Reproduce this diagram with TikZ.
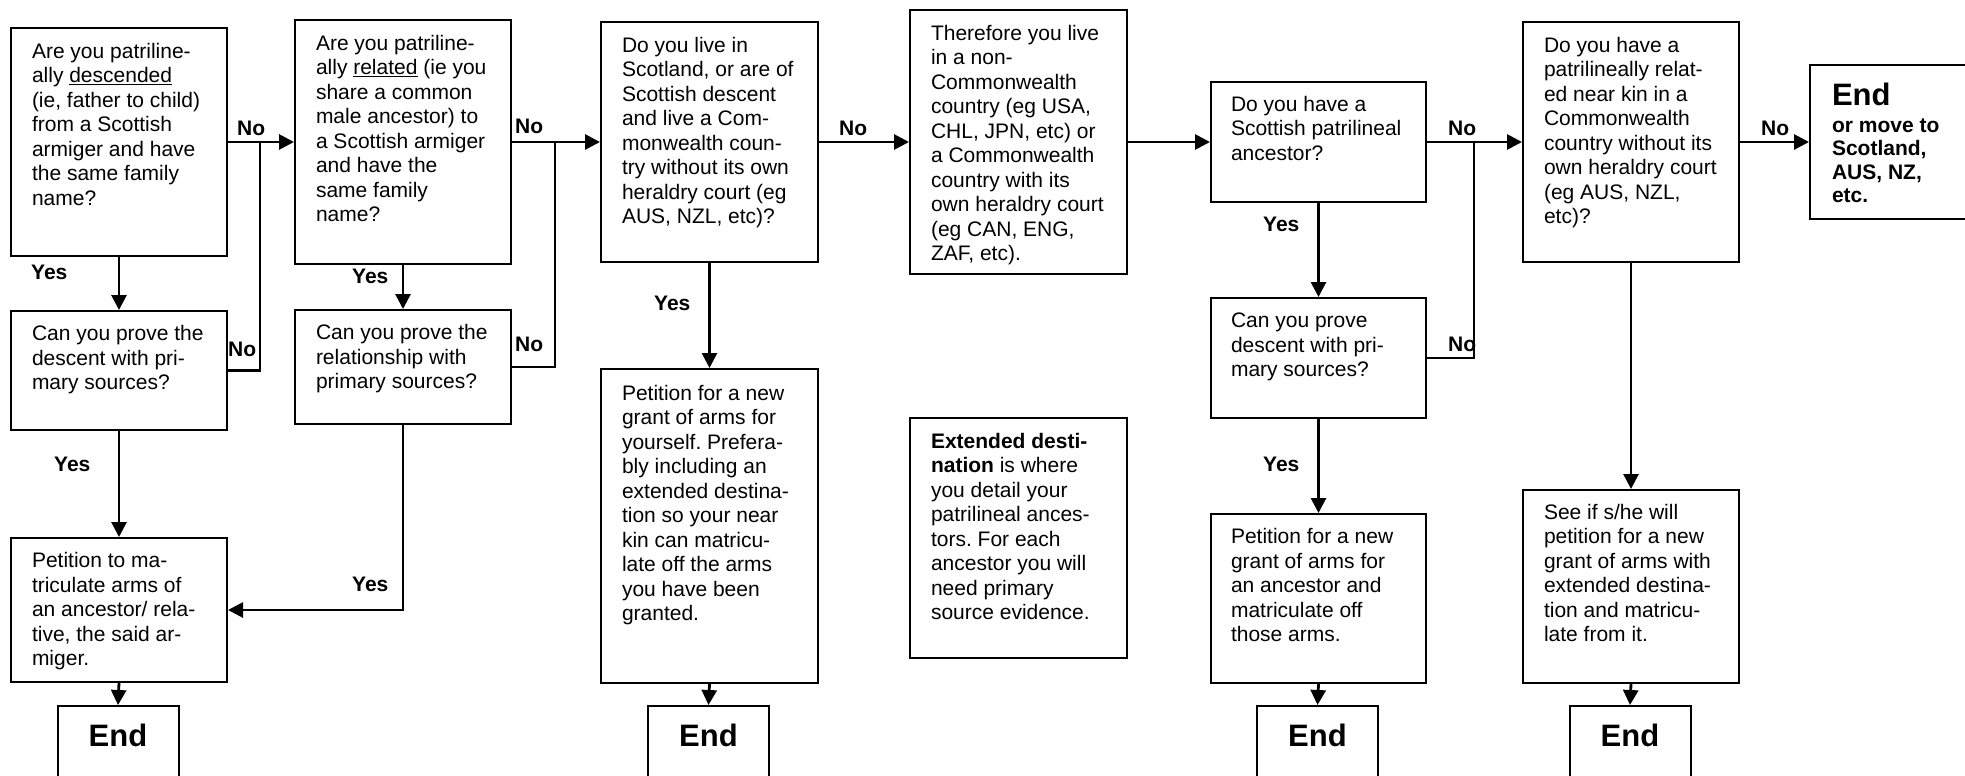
\documentclass[tikz,border=0pt]{standalone}
\usepackage{fontspec}
\setmainfont{Liberation Sans}
\usetikzlibrary{arrows.meta}
\frenchspacing
% #1 width, #2 height, #3 left inset, #4 first baseline, #5 text
\newcommand{\bxt}[5]{\parbox[c][#2pt][t]{#1pt}{\raggedright\frenchspacing\leftskip=#3pt\relax\hyphenpenalty=10000\exhyphenpenalty=10000\rule{0pt}{#4pt}#5\par}}
\newcommand{\ebx}{\parbox[c][110pt][t]{121pt}{\centering\fontsize{31pt}{31pt}\selectfont\bfseries\rule{0pt}{40pt}End\par}}
\begin{document}
\begin{tikzpicture}[x=1pt,y=-1pt,
  every node/.style={font=\fontsize{21pt}{24.5pt}\selectfont},
  box/.style={draw, line width=2pt, inner sep=0pt, anchor=north west},
  endbox/.style={draw, line width=2pt, inner sep=0pt, anchor=north},
  conn/.style={line width=2.8pt},
  arr/.style={conn, -{Triangle[length=15pt,width=15pt]}},
  lab/.style={font=\fontsize{21pt}{24.5pt}\selectfont\bfseries, inner sep=0pt, anchor=base west}]
\useasboundingbox (0,0) rectangle (1965,776);
\fill[white] (0,0) rectangle (1965,776);
\clip (0,0) rectangle (1965,776);

% main row
\node[box] (q1) at (10,27) {\bxt{216}{228}{21}{30}{Are you patriline-\\ally \underline{descended}\\(ie, father to child)\\from a Scottish\\armiger and have\\the same family\\name?}};
\node[box] (q2) at (294,19) {\bxt{216}{244}{21}{30}{Are you patriline-\\ally \underline{related} (ie you\\share a common\\male ancestor) to\\a Scottish armiger\\and have the\\same family\\name?}};
\node[box] (q3) at (600,21) {\bxt{217}{240}{21}{30}{Do you live in\\Scotland, or are of\\Scottish descent\\and live a Com-\\monwealth coun-\\try without its own\\heraldry court (eg\\AUS, NZL, etc)?}};
\node[box] (t4) at (909,9) {\bxt{217}{264}{21}{30}{Therefore you live\\in a non-\\Commonwealth\\country (eg USA,\\CHL, JPN, etc) or\\a Commonwealth\\country with its\\own heraldry court\\(eg CAN, ENG,\\ZAF, etc).}};
\node[box] (q5) at (1210,81) {\bxt{215}{120}{20}{29}{Do you have a\\Scottish patrilineal\\ancestor?}};
\node[box] (q6) at (1522,21) {\bxt{216}{240}{21}{30}{Do you have a\\patrilineally relat-\\ed near kin in a\\Commonwealth\\country without its\\own heraldry court\\(eg AUS, NZL,\\etc)?}};
\node[box] (e7) at (1809,64) {\bxt{200}{154}{22}{40}{\fontsize{21pt}{23.5pt}\selectfont\bfseries{\fontsize{31pt}{31pt}\selectfont End}\\[3.5pt]or move to\\Scotland,\\AUS, NZ,\\etc.}};

% second row
\node[box] (p8) at (10,310) {\bxt{216}{119}{21}{29.5}{Can you prove the\\descent with pri-\\mary sources?}};
\node[box] (p9) at (294,309) {\bxt{216}{114}{21}{29.5}{Can you prove the\\relationship with\\primary sources?}};
\node[box] (p15) at (1210,297) {\bxt{215}{120}{20}{29.5}{Can you prove\\descent with pri-\\mary sources?}};

% third row
\node[box] (m10) at (10,537) {\bxt{216}{144}{21}{29.7}{Petition to ma-\\triculate arms of\\an ancestor/ rela-\\tive, the said ar-\\miger.}};
\node[box] (g12) at (600,368) {\bxt{217}{314}{21}{31}{Petition for a new\\grant of arms for\\yourself. Prefera-\\bly including an\\extended destina-\\tion so your near\\kin can matricu-\\late off the arms\\you have been\\granted.}};
\node[box] (x14) at (909,417) {\bxt{217}{240}{21}{30}{\textbf{Extended desti-}\\\textbf{nation} is where\\you detail your\\patrilineal ances-\\tors. For each\\ancestor you will\\need primary\\source evidence.}};
\node[box] (g16) at (1210,513) {\bxt{215}{169}{20}{29.7}{Petition for a new\\grant of arms for\\an ancestor and\\matriculate off\\those arms.}};
\node[box] (s18) at (1522,489) {\bxt{216}{193}{21}{29.3}{See if s/he will\\petition for a new\\grant of arms with\\extended destina-\\tion and matricu-\\late from it.}};

% end boxes
\node[endbox] (e11) at (118,705) {\ebx};
\node[endbox] (e13) at (708.5,705) {\ebx};
\node[endbox] (e17) at (1317.5,705) {\ebx};
\node[endbox] (e19) at (1630,705) {\ebx};

% junctions
\coordinate (j1) at (260,141);
\coordinate (j2) at (555,141);
\coordinate (j3) at (1474,141);

% connectors
\draw[arr] (q1.east) -- (q2.west);
\draw[conn] (p8.east) -| (j1);
\draw[arr] (q1.south) -- (p8.north);
\draw[arr] (p8.south) -- (m10.north);
\draw[arr] (m10.south) -- (e11.north);

\draw[arr] (q2.east) -- (q3.west);
\draw[conn] (p9.east) -| (j2);
\draw[arr] (q2.south) -- (p9.north);
\draw[arr] (p9.south) |- (m10.east);

\draw[arr] (q3.east) -- (t4.west);
\draw[arr] (q3.south) -- (g12.north);
\draw[arr] (g12.south) -- (e13.north);

\draw[arr] (t4.east) -- (q5.west);

\draw[arr] (q5.east) -- (q6.west);
\draw[conn] (p15.east) -| (j3);
\draw[arr] (q5.south) -- (p15.north);
\draw[arr] (p15.south) -- (g16.north);
\draw[arr] (g16.south) -- (e17.north);

\draw[arr] (q6.east) -- (e7.west);
\draw[arr] (q6.south) -- (s18.north);
\draw[arr] (s18.south) -- (e19.north);

% labels
\node[lab] (l1) at (237,135) {No};
\node[lab] (l2) at (228,356) {No};
\node[lab] (l3) at (515,133.5) {No};
\node[lab] (l4) at (515,351) {No};
\node[lab] (l5) at (31,279) {Yes};
\node[lab] (l6) at (352,283) {Yes};
\node[lab] (l7) at (54,471) {Yes};
\node[lab] (l8) at (352,591) {Yes};
\node[lab] (l9) at (839,135) {No};
\node[lab] (l10) at (654,310) {Yes};
\node[lab] (l11) at (1448,135) {No};
\node[lab] (l12) at (1448,351) {No};
\node[lab] (l13) at (1263,231) {Yes};
\node[lab] (l14) at (1263,471) {Yes};
\node[lab] (l15) at (1761,135) {No};
\end{tikzpicture}
\end{document}
